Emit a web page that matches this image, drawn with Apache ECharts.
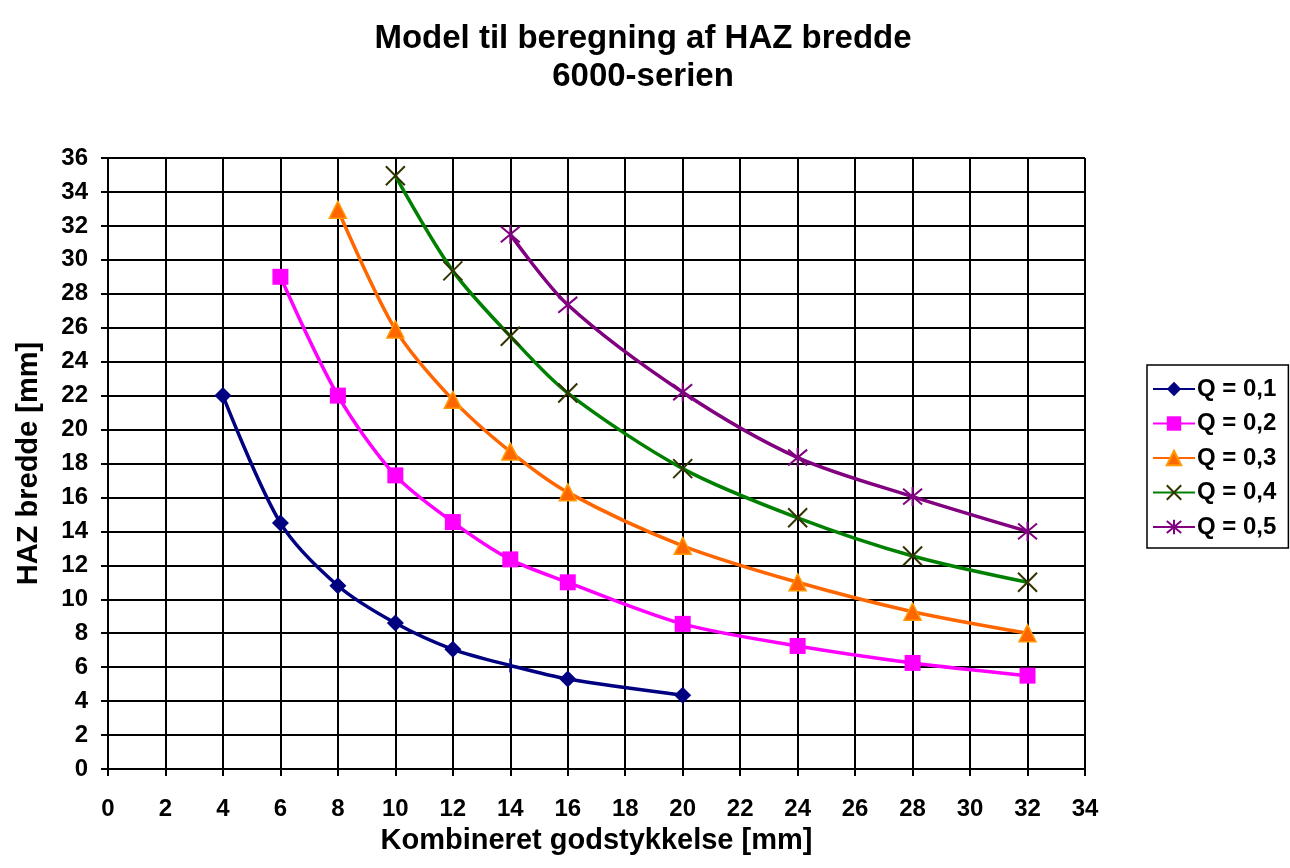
<!DOCTYPE html>
<html><head><meta charset="utf-8">
<script src="https://cdn.jsdelivr.net/npm/echarts@6/dist/echarts.min.js"></script>
<style>html,body{margin:0;padding:0;background:#fff}#c{width:1290px;height:868px}</style>
</head><body><div id="c"></div>
<script>
const seriesNames = ['Q = 0,1','Q = 0,2','Q = 0,3','Q = 0,4','Q = 0,5'];
const q1x = [4,6,8,10,12,14,16,20];
const q1y = [22,14.5,10.8,8.6,7.05,6.1,5.3,4.35];
const q2x = [6,8,10,12,14,16,20,24,28,32];
const q2y = [29,22,17.3,14.55,12.35,11.0,8.55,7.25,6.25,5.5];
const q3x = [8,10,12,14,16,20,24,28,32];
const q3y = [32.95,25.9,21.75,18.7,16.3,13.15,11.0,9.27,8.0];
const q4x = [10,12,14,16,20,24,28,32];
const q4y = [34.95,29.35,25.5,22.15,17.7,14.8,12.55,11.0];
const q5x = [14,16,20,24,28,32];
const q5y = [31.5,27.35,22.2,18.35,16.05,14.0];
const xTicks = [0,2,4,6,8,10,12,14,16,18,20,22,24,26,28,30,32,34];
const yTicks = [0,2,4,6,8,10,12,14,16,18,20,22,24,26,28,30,32,34,36];

const FONT = 'Liberation Sans, Arial, sans-serif';
function pts(xs, ys){ return xs.map((x,i)=>[x, ys[i]]); }
const q1 = pts(q1x,q1y).map(p => p[0]===14 ? {value:p, symbol:'rect', symbolSize:[2,14]} : p);

const chart = echarts.init(document.getElementById('c'));
chart.setOption({
  animation:false,
  backgroundColor:'#fff',
  title:{
    text:'Model til beregning af HAZ bredde\n6000-serien',
    left:638, top:15, textAlign:'center',
    textStyle:{fontFamily:FONT, fontSize:33, fontWeight:'bold', color:'#000', lineHeight:38}
  },
  legend:{
    orient:'vertical', left:1147, top:365,
    data:seriesNames,
    borderColor:'#000', borderWidth:1.5, padding:[12,12,9,5],
    itemWidth:42, itemHeight:18, itemGap:10.5,
    textStyle:{fontFamily:FONT, fontSize:24, fontWeight:'bold', color:'#000', padding:[0,0,0,-3]}
  },
  grid:{left:108, top:158, width:977, height:611, containLabel:false},
  xAxis:{
    type:'value', min:0, max:34, interval:2,
    name:'Kombineret godstykkelse [mm]', nameLocation:'middle', nameGap:57, nameMoveOverlap:false,
    nameTextStyle:{fontFamily:FONT, fontSize:29, fontWeight:'bold', color:'#000'},
    axisLine:{lineStyle:{color:'#000', width:2}},
    axisTick:{show:true, length:7, lineStyle:{color:'#000', width:2}},
    axisLabel:{fontFamily:FONT, fontSize:24, fontWeight:'bold', color:'#000', margin:28},
    splitLine:{show:true, lineStyle:{color:'#000', width:2}}
  },
  yAxis:{
    type:'value', min:0, max:36, interval:2,
    name:'HAZ bredde [mm]', nameLocation:'middle', nameGap:65, nameRotate:90, nameMoveOverlap:false,
    nameTextStyle:{fontFamily:FONT, fontSize:29, fontWeight:'bold', color:'#000'},
    axisLine:{show:true, lineStyle:{color:'#000', width:2}},
    axisTick:{show:true, length:7, lineStyle:{color:'#000', width:2}},
    axisLabel:{fontFamily:FONT, fontSize:24, fontWeight:'bold', color:'#000', margin:20},
    splitLine:{show:true, lineStyle:{color:'#000', width:2}}
  },
  series:[
    {name:seriesNames[0], type:'line', smooth:0.3, data:q1, symbol:'diamond', symbolSize:17,
     lineStyle:{color:'#000080', width:3.5}, itemStyle:{color:'#000080'}},
    {name:seriesNames[1], type:'line', smooth:0.3, data:pts(q2x,q2y), symbol:'rect', symbolSize:16,
     lineStyle:{color:'#FF00FF', width:3.5}, itemStyle:{color:'#FF00FF'}},
    {name:seriesNames[2], type:'line', smooth:0.3, data:pts(q3x,q3y), symbol:'triangle', symbolSize:17,
     lineStyle:{color:'#FF6600', width:3.5}, itemStyle:{color:'#FF6600', borderColor:'#FF9900', borderWidth:1.5}},
    {name:seriesNames[3], type:'line', smooth:0.3, data:pts(q4x,q4y), symbol:'path://M0,0L10,10M10,0L0,10', symbolSize:19,
     lineStyle:{color:'#008000', width:3.5}, itemStyle:{color:'rgba(0,0,0,0)', borderColor:'#333300', borderWidth:2}},
    {name:seriesNames[4], type:'line', smooth:0.3, data:pts(q5x,q5y), symbol:'path://M0,0L10,10M10,0L0,10M5,-1L5,11', symbolSize:19,
     lineStyle:{color:'#800080', width:3.5}, itemStyle:{color:'rgba(0,0,0,0)', borderColor:'#800080', borderWidth:2}}
  ]
});
</script></body></html>
